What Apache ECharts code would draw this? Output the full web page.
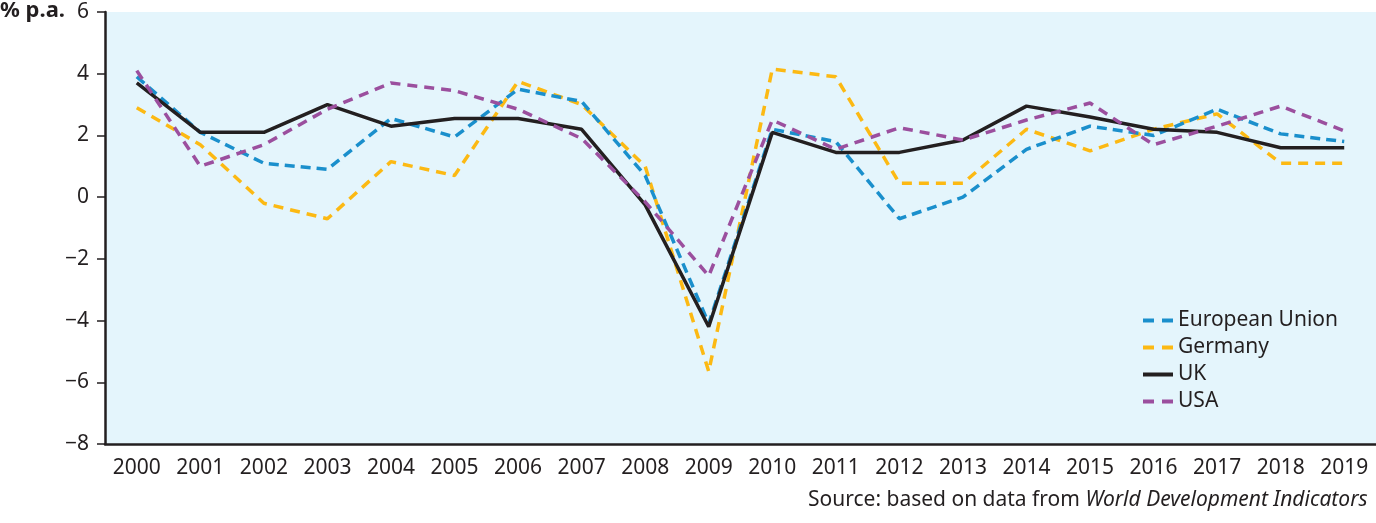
<!DOCTYPE html>
<html>
<head>
<meta charset="utf-8">
<script src="https://cdn.jsdelivr.net/npm/echarts@6/dist/echarts.min.js"></script>
<style>
html,body{margin:0;padding:0;background:#fff;}
#growth{width:1376px;height:523px;}
</style>
</head>
<body>
<div id="growth"></div>
<script>
// years on the x axis
var years = ['2000','2001','2002','2003','2004','2005','2006','2007','2008','2009',
             '2010','2011','2012','2013','2014','2015','2016','2017','2018','2019'];
// GDP growth, % p.a.
var euData      = [3.9, 2.1, 1.1, 0.9, 2.55, 1.95, 3.5, 3.1, 0.7, -4.1, 2.2, 1.8, -0.7, 0.0, 1.55, 2.3, 2.0, 2.85, 2.05, 1.8];
var germanyData = [2.9, 1.7, -0.2, -0.7, 1.15, 0.7, 3.75, 3.0, 1.0, -5.65, 4.15, 3.9, 0.45, 0.45, 2.2, 1.5, 2.2, 2.7, 1.1, 1.1];
var ukData      = [3.7, 2.1, 2.1, 3.0, 2.3, 2.55, 2.55, 2.2, -0.25, -4.2, 2.1, 1.45, 1.45, 1.85, 2.95, 2.6, 2.2, 2.1, 1.6, 1.6];
var usaData     = [4.1, 1.0, 1.7, 2.85, 3.7, 3.45, 2.85, 1.9, -0.15, -2.55, 2.5, 1.55, 2.25, 1.85, 2.5, 3.05, 1.7, 2.3, 2.95, 2.15];
var yTicks = {min: -8, max: 6, interval: 2};

var textColor = '#231f20';
var fontName = 'Noto Sans';
// legend keys: two short dashes, or one solid bar
var dashIcon = 'path://M0,0h11v4h-11z M19,0h11v4h-11z';
var solidIcon = 'path://M0,0h30v4h-30z';

var myChart = echarts.init(document.getElementById('growth'));
myChart.setOption({
    animation: false,
    textStyle: {fontFamily: fontName},
    grid: {left: 105, right: 0, top: 12, bottom: 79,
        show: true, backgroundColor: '#e4f5fc', borderWidth: 0},
    legend: {
        orient: 'vertical',
        left: 1138, top: 305,
        itemWidth: 30, itemHeight: 4, itemGap: 6,
        textStyle: {color: textColor, fontSize: 21, fontFamily: fontName},
        data: [
            {name: 'European Union', icon: dashIcon},
            {name: 'Germany', icon: dashIcon},
            {name: 'UK', icon: solidIcon},
            {name: 'USA', icon: dashIcon}
        ]
    },
    xAxis: {
        type: 'category',
        data: years,
        boundaryGap: true,
        axisLine: {onZero: false, lineStyle: {color: textColor, width: 2.5}},
        axisTick: {alignWithLabel: true, length: 7, lineStyle: {color: textColor, width: 1.5}},
        axisLabel: {color: textColor, fontSize: 21, margin: 14, interval: 0}
    },
    yAxis: {
        type: 'value',
        min: yTicks.min, max: yTicks.max, interval: yTicks.interval,
        splitLine: {show: false},
        axisLine: {show: true, lineStyle: {color: textColor, width: 2.5}},
        axisTick: {show: true, length: 8, lineStyle: {color: textColor, width: 1.5}},
        axisLabel: {
            color: textColor, fontSize: 21, margin: 16,
            formatter: function (v) { return String(v).replace('-', '\u2212'); }
        }
    },
    graphic: [
        {type: 'text', left: 0, top: 0,
            style: {text: '% p.a.', fill: textColor, font: 'bold 22px "Noto Sans"'}},
        {type: 'text', left: 808, top: 490,
            style: {
                text: '{n|Source: based on data from }{i|World Development Indicators}',
                rich: {
                    n: {fill: textColor, fontSize: 21, fontFamily: fontName},
                    i: {fill: textColor, fontSize: 21, fontFamily: fontName, fontStyle: 'italic'}
                }
            }}
    ],
    series: [{
        name: 'European Union', type: 'line', data: euData,
        symbol: 'none', z: 3,
        itemStyle: {color: '#1a8fcc'},
        lineStyle: {color: '#1a8fcc', width: 3.5, type: [10, 6]}
    }, {
        name: 'Germany', type: 'line', data: germanyData,
        symbol: 'none', z: 2,
        itemStyle: {color: '#fcb913'},
        lineStyle: {color: '#fcb913', width: 3.5, type: [10, 7]}
    }, {
        name: 'UK', type: 'line', data: ukData,
        symbol: 'none', z: 4,
        itemStyle: {color: '#231f20'},
        lineStyle: {color: '#231f20', width: 3.5}
    }, {
        name: 'USA', type: 'line', data: usaData,
        symbol: 'none', z: 5,
        itemStyle: {color: '#9b4f9e'},
        lineStyle: {color: '#9b4f9e', width: 3.5, type: [10, 7]}
    }]
});
</script>
</body>
</html>
